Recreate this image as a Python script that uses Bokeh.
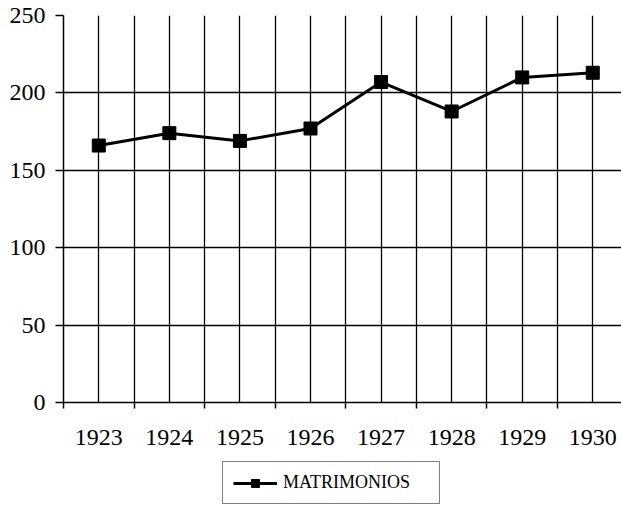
from bokeh.plotting import figure
from bokeh.layouts import column
from bokeh.models import Range1d, FixedTicker, Legend, LegendItem
from bokeh.embed import file_html
from bokeh.resources import INLINE

years = ["1923", "1924", "1925", "1926", "1927", "1928", "1929", "1930"]
matrimonios = [166, 174, 169, 177, 207, 188, 210, 213]
y_ticks = [0, 50, 100, 150, 200, 250]
series_name = "MATRIMONIOS"

xs = list(range(len(years)))
font = "Liberation Serif"

p = figure(width=621, height=455, output_backend="svg", toolbar_location=None,
           x_range=Range1d(-0.5, 7.407), y_range=Range1d(0, 250),
           min_border_left=63, min_border_right=0, min_border_top=15, min_border_bottom=53)
p.outline_line_color = None
p.background_fill_color = "white"
p.border_fill_color = "white"

# x axis: labels at centres, ticks at category boundaries (minor ticks)
p.xaxis.ticker = FixedTicker(ticks=xs, minor_ticks=[i - 0.5 for i in range(len(years) + 1)])
p.xaxis.major_label_overrides = {i: y for i, y in enumerate(years)}
p.xaxis.major_tick_out = 0
p.xaxis.major_tick_in = 0
p.xaxis.minor_tick_out = 6
p.xaxis.minor_tick_in = 0
p.xaxis.minor_tick_line_color = "black"
p.xaxis.minor_tick_line_width = 1.5
p.xaxis.major_label_standoff = 21
p.xaxis.major_label_text_font = font
p.xaxis.major_label_text_font_size = "24px"
p.xaxis.major_label_text_color = "black"
p.xaxis.axis_line_color = "black"
p.xaxis.axis_line_width = 1.5

p.yaxis.ticker = FixedTicker(ticks=y_ticks)
p.yaxis.major_tick_out = 8
p.yaxis.major_tick_in = 0
p.yaxis.minor_tick_line_color = None
p.yaxis.major_tick_line_width = 1.5
p.yaxis.major_label_standoff = 10
p.yaxis.major_label_text_font = font
p.yaxis.major_label_text_font_size = "24px"
p.yaxis.major_label_text_color = "black"
p.yaxis.axis_line_color = "black"
p.yaxis.axis_line_width = 1.5

p.xgrid.grid_line_color = "black"
p.xgrid.grid_line_width = 1.3
p.xgrid.minor_grid_line_color = "black"
p.xgrid.minor_grid_line_width = 1.3
p.ygrid.grid_line_color = "black"
p.ygrid.grid_line_width = 1.3

p.line(xs, matrimonios, line_color="black", line_width=3)
p.scatter(xs, matrimonios, marker="square", size=13, fill_color="black", line_color="black")

# legend strip below the chart (series glyphs lie outside this strip's ranges)
p2 = figure(width=621, height=50, output_backend="svg", toolbar_location=None,
            x_axis_location=None, y_axis_location=None,
            x_range=Range1d(0, 1), y_range=Range1d(0, 1),
            min_border=0, min_border_left=0, min_border_right=0, min_border_top=0, min_border_bottom=0)
p2.outline_line_color = None
p2.grid.visible = False
ln2 = p2.line(xs, matrimonios, line_color="black", line_width=3)
mk2 = p2.scatter(xs, matrimonios, marker="square", size=13, fill_color="black", line_color="black")

legend = Legend(items=[LegendItem(label=series_name, renderers=[ln2, mk2])],
                location=(159, 1), padding=10, margin=0,
                glyph_width=44, glyph_height=20, label_standoff=6, label_width=146,
                label_text_font=font, label_text_font_size="18px", label_text_color="black",
                border_line_color="black", border_line_width=1.5,
                background_fill_color="white", background_fill_alpha=1)
p2.add_layout(legend, "center")

open("out.html", "w").write(file_html(column(p, p2, spacing=0), INLINE))
